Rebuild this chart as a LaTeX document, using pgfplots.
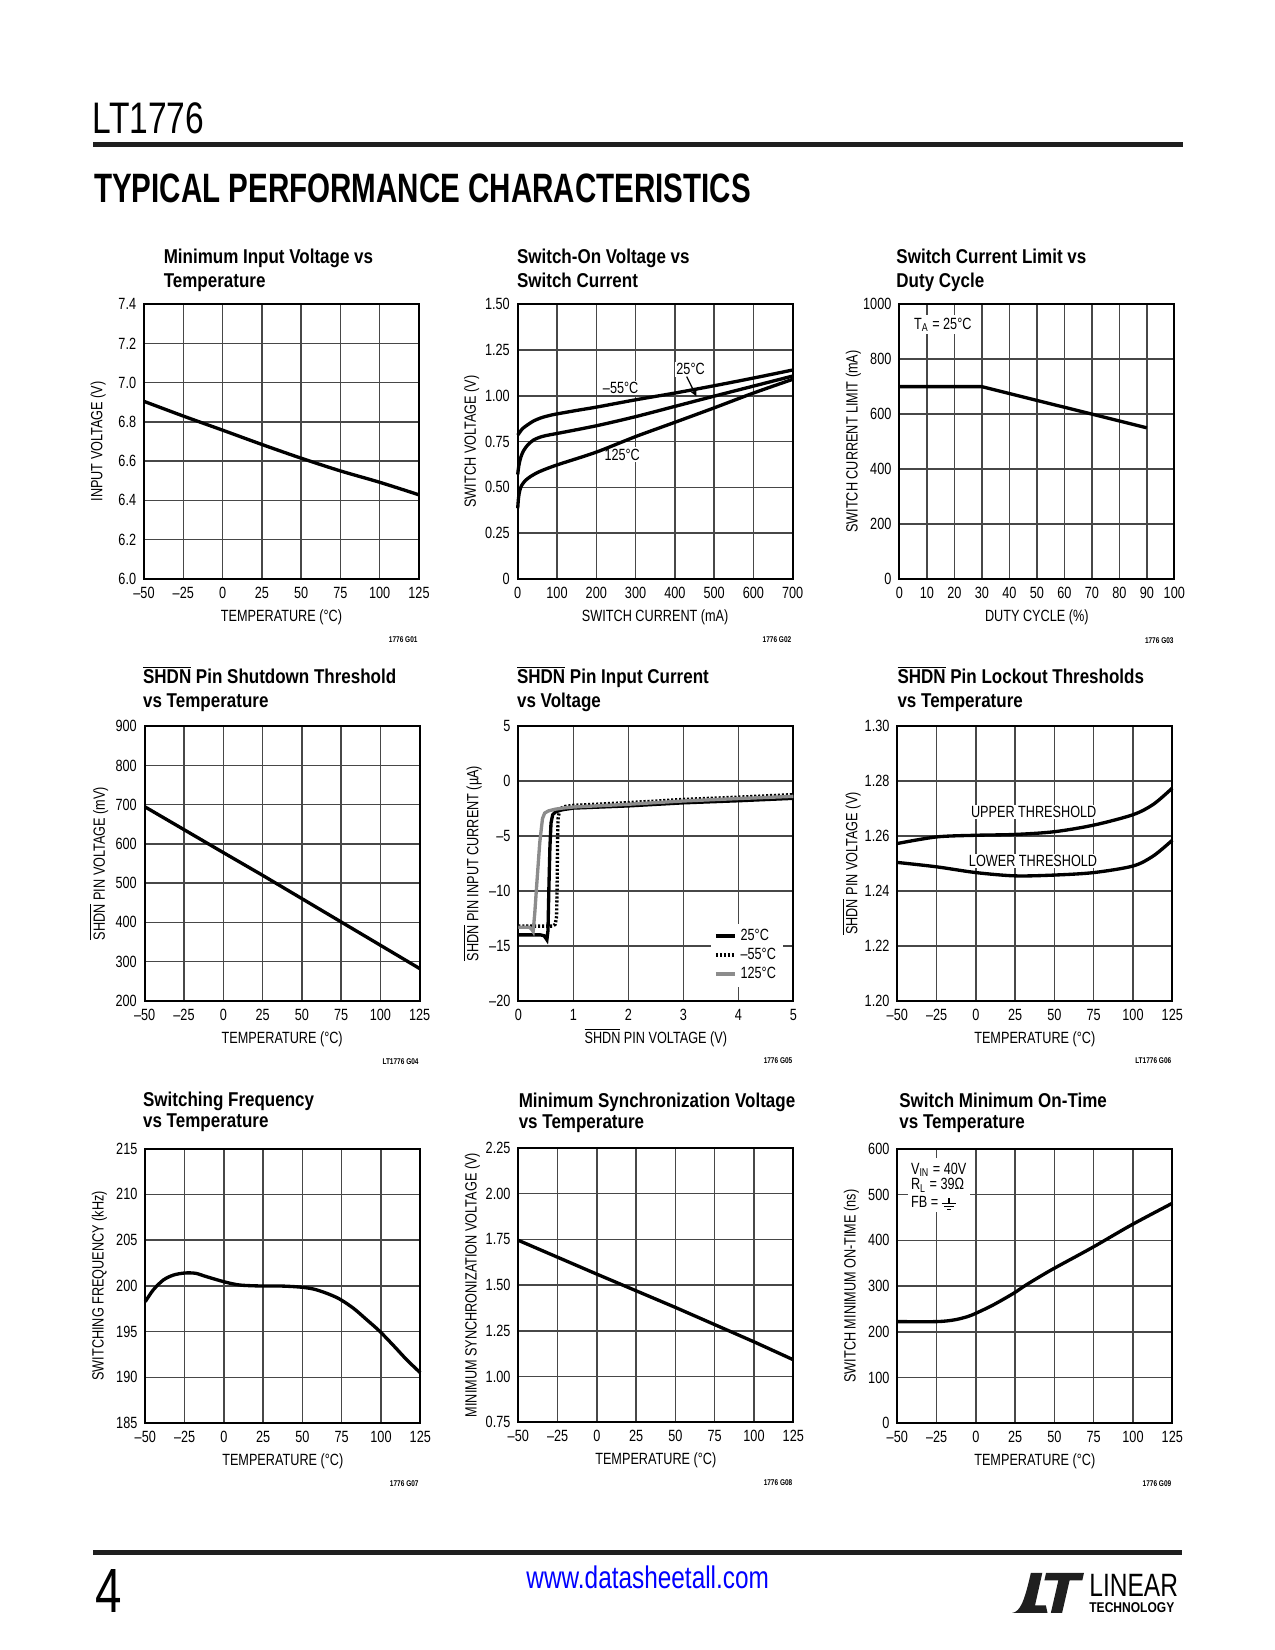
\documentclass[border=0pt]{standalone}
\usepackage{fontspec}
\setmainfont{Liberation Sans}[FakeStretch=0.78]
\newfontfamily\titlefont{Liberation Sans}[FakeStretch=0.85]
\newfontfamily\headfont{Liberation Sans}[FakeStretch=0.76]
\newfontfamily\bigfont{Liberation Sans}[FakeStretch=0.72]
\usepackage{pgfplots}
\pgfplotsset{compat=1.18}

\newcommand\tk{\fontsize{7.8}{8.8}\selectfont}
\newcommand\ttl{\titlefont\bfseries\fontsize{9.6}{11}\selectfont}
\newcommand\idf{\bfseries\fontsize{4}{5}\selectfont}
\newcommand\ol[1]{\ensuremath{\overline{\mbox{#1}}}}
\newcommand\gnd{\raisebox{-1.4pt}{\vbox{\offinterlineskip
  \hbox to 7pt{\hss\vrule width 0.6pt height 2.4pt\hss}
  \hrule height 0.6pt width 7pt
  \vskip 0.9pt
  \hbox to 7pt{\hss\vrule width 4.4pt height 0.6pt\hss}
  \vskip 0.9pt
  \hbox to 7pt{\hss\vrule width 1.8pt height 0.6pt\hss}}}}

\pgfplotsset{
  lt/.style={
    scale only axis, width=132pt, height=131.7pt,
    anchor=south west,
    axis line style={line width=1pt},
    tick style={draw=none},
    grid=major,
    major grid style={line width=0.7pt, draw=black!72},
    tick label style={font=\tk},
    label style={font=\tk},
    xticklabel style={anchor=base, yshift=-9.3pt},
    yticklabel style={anchor=east, inner sep=0pt, xshift=-3.6pt},
    xlabel style={at={(axis description cs:0.5,-0.155)}, anchor=base},
    ylabel style={at={(axis description cs:-0.167,0.5)}, anchor=center},
    every axis plot/.append style={line width=1.6pt},
    clip=false,
  },
  temp/.style={
    xmin=-50, xmax=125,
    xtick={-50,-25,0,25,50,75,100,125},
    xticklabels={–50,–25,0,25,50,75,100,125},
    xlabel={TEMPERATURE (°C)},
  }
}

\begin{document}
\begin{tikzpicture}
\useasboundingbox (0,0) rectangle (612pt,-792pt);

% ---------- header ----------
\node[anchor=base west, inner sep=0pt, font=\headfont\fontsize{21.2}{24}\selectfont] at (44.4pt,-64.1pt) {LT1776};
\fill[black!88] (44.6pt,-68.2pt) rectangle (567.8pt,-70.6pt);
\node[anchor=base west, inner sep=0pt, font=\bigfont\bfseries\fontsize{19.7}{22}\selectfont] at (45pt,-97.4pt) {TYPICAL PERFORMANCE CHARACTERISTICS};

% ---------- titles ----------
\node[anchor=base west, inner sep=0pt, font=\ttl] at (78.4pt,-126.7pt) {Minimum Input Voltage vs};
\node[anchor=base west, inner sep=0pt, font=\ttl] at (78.4pt,-137.8pt) {Temperature};
\node[anchor=base west, inner sep=0pt, font=\ttl] at (248.0pt,-126.7pt) {Switch-On Voltage vs};
\node[anchor=base west, inner sep=0pt, font=\ttl] at (248.0pt,-137.8pt) {Switch Current};
\node[anchor=base west, inner sep=0pt, font=\ttl] at (430.1pt,-126.7pt) {Switch Current Limit vs};
\node[anchor=base west, inner sep=0pt, font=\ttl] at (430.1pt,-137.8pt) {Duty Cycle};

\node[anchor=base west, inner sep=0pt, font=\ttl] at (68.5pt,-328.3pt) {\ol{SHDN} Pin Shutdown Threshold};
\node[anchor=base west, inner sep=0pt, font=\ttl] at (68.5pt,-339.4pt) {vs Temperature};
\node[anchor=base west, inner sep=0pt, font=\ttl] at (248.0pt,-328.3pt) {\ol{SHDN} Pin Input Current};
\node[anchor=base west, inner sep=0pt, font=\ttl] at (248.0pt,-339.4pt) {vs Voltage};
\node[anchor=base west, inner sep=0pt, font=\ttl] at (430.6pt,-328.3pt) {\ol{SHDN} Pin Lockout Thresholds};
\node[anchor=base west, inner sep=0pt, font=\ttl] at (430.6pt,-339.4pt) {vs Temperature};

\node[anchor=base west, inner sep=0pt, font=\ttl] at (68.5pt,-530.9pt) {Switching Frequency};
\node[anchor=base west, inner sep=0pt, font=\ttl] at (68.5pt,-541.4pt) {vs Temperature};
\node[anchor=base west, inner sep=0pt, font=\ttl] at (248.8pt,-531.4pt) {Minimum Synchronization Voltage};
\node[anchor=base west, inner sep=0pt, font=\ttl] at (248.8pt,-541.9pt) {vs Temperature};
\node[anchor=base west, inner sep=0pt, font=\ttl] at (431.5pt,-531.4pt) {Switch Minimum On-Time};
\node[anchor=base west, inner sep=0pt, font=\ttl] at (431.5pt,-541.9pt) {vs Temperature};

% ---------- chart ids ----------
\node[anchor=base east, inner sep=0pt, font=\idf] at (200.6pt,-308.6pt) {1776 G01};
\node[anchor=base east, inner sep=0pt, font=\idf] at (380.0pt,-308.6pt) {1776 G02};
\node[anchor=base east, inner sep=0pt, font=\idf] at (563.5pt,-308.8pt) {1776 G03};
\node[anchor=base east, inner sep=0pt, font=\idf] at (201.1pt,-510.9pt) {LT1776 G04};
\node[anchor=base east, inner sep=0pt, font=\idf] at (380.5pt,-510.7pt) {1776 G05};
\node[anchor=base east, inner sep=0pt, font=\idf] at (562.4pt,-510.7pt) {LT1776 G06};
\node[anchor=base east, inner sep=0pt, font=\idf] at (201.1pt,-713.6pt) {1776 G07};
\node[anchor=base east, inner sep=0pt, font=\idf] at (380.5pt,-712.8pt) {1776 G08};
\node[anchor=base east, inner sep=0pt, font=\idf] at (562.4pt,-713.3pt) {1776 G09};

% ---------- chart 1 ----------
\begin{axis}[lt, temp, at={(69.12pt,-277.78pt)},
  ymin=6.0, ymax=7.4,
  ytick={6,6.2,6.4,6.6,6.8,7,7.2,7.4},
  yticklabels={6.0,6.2,6.4,6.6,6.8,7.0,7.2,7.4},
  ylabel={INPUT VOLTAGE (V)}]
\addplot[black, smooth] coordinates {(-50,6.905) (-25,6.830) (0,6.758) (25,6.685) (50,6.615) (75,6.550) (100,6.492) (125,6.428)};
\end{axis}

% ---------- chart 2 ----------
\begin{axis}[lt, at={(248.5pt,-277.78pt)},
  xmin=0, xmax=700, ymin=0, ymax=1.5,
  xtick={0,100,...,700},
  xticklabels={0,100,200,300,400,500,600,700},
  ytick={0,0.25,0.5,0.75,1,1.25,1.5},
  yticklabels={0,0.25,0.50,0.75,1.00,1.25,1.50},
  xlabel={SWITCH CURRENT (mA)}, ylabel={SWITCH VOLTAGE (V)}]
\node[fill=white, inner sep=0.8pt, font=\tk] at (axis cs:262,1.043) {–55°C};
\node[fill=white, inner sep=0.8pt, font=\tk] at (axis cs:440,1.145) {25°C};
\node[fill=white, inner sep=0.8pt, font=\tk] at (axis cs:266,0.678) {125°C};
\addplot[black, smooth, tension=0.5] coordinates {(0,0.785) (5,0.80) (12,0.82) (23,0.838) (40,0.862) (60,0.880) (82,0.893) (100,0.901) (150,0.920) (200,0.938) (300,0.978) (400,1.015) (500,1.055) (600,1.097) (700,1.141)};
\addplot[black, smooth, tension=0.5] coordinates {(0,0.57) (3,0.62) (8,0.665) (15,0.70) (25,0.730) (40,0.758) (60,0.776) (80,0.786) (100,0.794) (200,0.836) (300,0.886) (400,0.942) (500,0.998) (600,1.053) (700,1.108)};
\addplot[black, smooth, tension=0.5] coordinates {(0,0.385) (2,0.44) (5,0.48) (10,0.51) (20,0.538) (35,0.562) (57,0.587) (100,0.622) (200,0.692) (300,0.777) (400,0.855) (500,0.934) (600,1.015) (700,1.090)};
\draw[line width=0.6pt, -stealth] (axis cs:430,1.105) -- (axis cs:455,0.997);
\end{axis}

% ---------- chart 3 ----------
\begin{axis}[lt, at={(431.66pt,-277.78pt)},
  xmin=0, xmax=100, ymin=0, ymax=1000,
  xtick={0,10,...,100},
  xticklabels={0,10,20,30,40,50,60,70,80,90,100},
  ytick={0,200,...,1000},
  yticklabels={0,200,400,600,800,1000},
  xlabel={DUTY CYCLE (\%)}, ylabel={SWITCH CURRENT LIMIT (mA)}]
\node[anchor=base west, fill=white, inner sep=1.2pt, font=\tk] at (axis cs:4.3,910) {T\textsubscript{A} = 25°C};
\addplot[black] coordinates {(0,700) (30,700) (90,550)};
\end{axis}

% ---------- chart 4 ----------
\begin{axis}[lt, temp, at={(69.46pt,-480.34pt)},
  ymin=200, ymax=900,
  ytick={200,300,...,900},
  yticklabels={200,300,400,500,600,700,800,900},
  ylabel={\ol{SHDN} PIN VOLTAGE (mV)}]
\addplot[black] coordinates {(-50,695) (0,578) (25,520) (75,401) (125,282)};
\end{axis}

% ---------- chart 5 ----------
\begin{axis}[lt, at={(248.78pt,-480.34pt)},
  xmin=0, xmax=5, ymin=-20, ymax=5,
  xtick={0,1,2,3,4,5},
  xticklabels={0,1,2,3,4,5},
  ytick={-20,-15,-10,-5,0,5},
  yticklabels={–20,–15,–10,–5,0,5},
  xlabel={\ol{SHDN} PIN VOLTAGE (V)}, ylabel={\ol{SHDN} PIN INPUT CURRENT (µA)},
  legend cell align=left,
  legend style={at={(axis description cs:0.965,0.05)}, anchor=south east, draw=none, fill=white,
    font=\tk, inner xsep=1.5pt, inner ysep=0.5pt, row sep=-1.8pt},
  legend image code/.code={\draw[#1] (0pt,0pt) -- (9.1pt,0pt);}]
\addplot[black] coordinates {(0,-14.0) (0.40,-14.0) (0.47,-14.08) (0.52,-14.45) (0.54,-13.6) (0.555,-10) (0.575,-6) (0.595,-3.8) (0.625,-3.05) (0.68,-2.78) (0.80,-2.6) (1.0,-2.45) (2,-2.25) (3,-1.97) (4,-1.78) (5,-1.56)};
\addlegendentry{25°C}
\addplot[black, dash pattern=on 1pt off 0.9pt] coordinates {(0,-13.2) (0.62,-13.2) (0.67,-13.05) (0.695,-12.4) (0.705,-10) (0.715,-5) (0.725,-3.3) (0.76,-2.5) (0.85,-2.3) (1.0,-2.2) (2,-1.95) (3,-1.66) (4,-1.45) (5,-1.22)};
\addlegendentry{–55°C}
\addplot[black!45] coordinates {(0,-13.3) (0.2,-13.3) (0.245,-13.5) (0.27,-13.7) (0.30,-12.0) (0.33,-9.8) (0.39,-5.6) (0.44,-3.4) (0.48,-2.9) (0.55,-2.7) (0.67,-2.55) (0.8,-2.45) (1,-2.35) (2,-2.1) (3,-1.8) (4,-1.58) (5,-1.38)};
\addlegendentry{125°C}
\end{axis}

% ---------- chart 6 ----------
\begin{axis}[lt, temp, at={(430.7pt,-480.34pt)},
  ymin=1.20, ymax=1.30,
  ytick={1.2,1.22,1.24,1.26,1.28,1.3},
  yticklabels={1.20,1.22,1.24,1.26,1.28,1.30},
  ylabel={\ol{SHDN} PIN VOLTAGE (V)}]
\node[fill=white, inner sep=0.6pt, font=\tk] at (axis cs:36.8,1.2687) {UPPER THRESHOLD};
\node[fill=white, inner sep=0.6pt, font=\tk] at (axis cs:36.4,1.2511) {LOWER THRESHOLD};
\addplot[black, smooth] coordinates {(-50,1.2573) (-25,1.2597) (0,1.2603) (25,1.2606) (50,1.2616) (75,1.2640) (100,1.2678) (113,1.2716) (125,1.2775)};
\addplot[black, smooth] coordinates {(-50,1.2504) (-25,1.2488) (0,1.2467) (25,1.2455) (50,1.2458) (75,1.2467) (100,1.2491) (113,1.2528) (125,1.2585)};
\end{axis}

% ---------- chart 7 ----------
\begin{axis}[lt, temp, at={(69.74pt,-683.04pt)},
  ymin=185, ymax=215,
  ytick={185,190,...,215},
  yticklabels={185,190,195,200,205,210,215},
  ylabel={SWITCHING FREQUENCY (kHz)}]
\addplot[black, smooth] coordinates {(-50,198.27) (-45,199.54) (-38.5,200.64) (-32,201.18) (-25,201.40) (-18,201.37) (-11,201.0) (0,200.45) (10,200.09) (24,199.98) (36,199.98) (48,199.87) (57,199.65) (65.5,199.18) (73.6,198.56) (82.5,197.54) (91,196.28) (99,195.06) (108,193.46) (116.5,191.89) (125,190.5)};
\end{axis}

% ---------- chart 8 ----------
\begin{axis}[lt, temp, at={(248.78pt,-682.7pt)},
  ymin=0.75, ymax=2.25,
  ytick={0.75,1,1.25,1.5,1.75,2,2.25},
  yticklabels={0.75,1.00,1.25,1.50,1.75,2.00,2.25},
  ylabel={MINIMUM SYNCHRONIZATION VOLTAGE (V)}]
\addplot[black] coordinates {(-50,1.745) (0,1.560) (50,1.378) (100,1.190) (125,1.092)};
\end{axis}

% ---------- chart 9 ----------
\begin{axis}[lt, temp, at={(430.7pt,-683.18pt)},
  ymin=0, ymax=600,
  ytick={0,100,...,600},
  yticklabels={0,100,200,300,400,500,600},
  ylabel={SWITCH MINIMUM ON-TIME (ns)}]
\fill[white] (axis cs:-43,462) rectangle (axis cs:-4,581);
\node[anchor=base west, inner sep=0pt, font=\tk] at (axis cs:-41.5,544.6) {V\textsubscript{IN} = 40V};
\node[anchor=base west, inner sep=0pt, font=\tk] at (axis cs:-41.5,510.3) {R\textsubscript{L} = 39Ω};
\node[anchor=base west, inner sep=0pt, font=\tk] at (axis cs:-41.5,472.4) {FB = \gnd};
\addplot[black, smooth] coordinates {(-50,222.4) (-25,222.4) (-14,226) (-5.6,233) (0,240.6) (11,258.8) (24,284.3) (32,302.6) (48,335.4) (74,384.2) (99,433.8) (125,481.2)};
\end{axis}

% ---------- footer ----------
\fill[black!88] (44.6pt,-744pt) rectangle (567.4pt,-746.4pt);
\node[anchor=base west, inner sep=0pt, font=\headfont\fontsize{30}{32}\selectfont] at (45.4pt,-774pt) {4};
\node[anchor=base west, inner sep=0pt, font=\fontsize{15}{17}\selectfont, text=blue] at (252.5pt,-762.7pt) {www.datasheetall.com};
\begin{scope}[shift={(485.8pt,-774.2pt)}, x=1pt, y=1pt]
  \fill[black!88] (0,0) .. controls (4,0.5) and (6,6) .. (9,19.2) -- (14.5,19.2) -- (11,3.6) -- (16.2,3.6) -- (17,0) -- cycle;
  \fill[black!88] (16.3,19.2) -- (34.5,19.2) -- (33.7,15.6) -- (27.6,15.6) -- (24,0) -- (18.6,0) -- (22.2,15.6) -- (15.5,15.6) -- cycle;
\end{scope}
\node[anchor=base west, inner sep=0pt, font=\headfont\fontsize{15.5}{17}\selectfont] at (522.7pt,-766.2pt) {LINEAR};
\node[anchor=base west, inner sep=0pt, font=\titlefont\bfseries\fontsize{6.8}{7.5}\selectfont] at (522.7pt,-774.2pt) {TECHNOLOGY};
\end{tikzpicture}
\end{document}
